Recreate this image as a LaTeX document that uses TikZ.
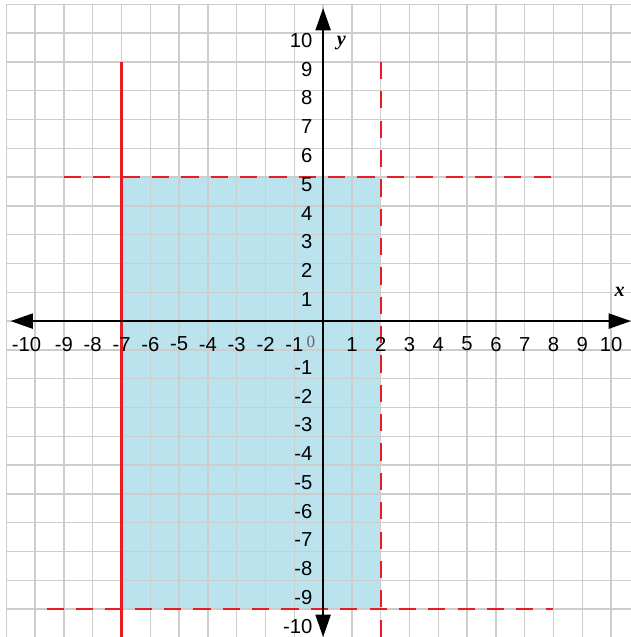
\documentclass[tikz,border=0pt]{standalone}
\usepackage{fontspec}
\setmainfont{Liberation Sans}
\newfontfamily\serifnum{Liberation Serif}
\usetikzlibrary{arrows.meta}
\definecolor{regionblue}{RGB}{187,227,238}
\definecolor{gridgray}{RGB}{205,205,205}
\definecolor{boundred}{RGB}{232,28,36}
\tikzset{
	bound/.style={draw=boundred,line width=2.2pt},
	boundopen/.style={draw=boundred,line width=1.6pt,dash pattern=on 17pt off 12pt}
}
\begin{document}
\begin{tikzpicture}[line join=round,>={Triangle[length=22pt,width=15pt]},font=\fontsize{20}{24}\selectfont,declare function={
		xmin=-11; xmax=10.69;
		ymin=-10.97; ymax=11;
	}]
	\useasboundingbox (-11.22,ymin) rectangle (xmax,11.15);
	\fill[regionblue] (-7,-10) rectangle (2,5);
	\draw[gridgray,line width=1.3pt] (xmin,-11) grid (xmax,ymax);
	% boundary lines
	\draw[bound] (-7,9)--(-7,ymin);
	\draw[boundopen] (2,9)--(2,ymin)
	(-9,5)--(8,5)
	(-9.6,-10)--(8,-10);
	\draw[<->,line width=1.6pt] (-10.85,0)--(xmax,0);
	\draw[<->,line width=1.6pt] (0,ymin)--(0,10.87);
	\node (xa) at (10.3,1) {\serifnum\itshape\bfseries x};
	\node (ya) at (0.63,9.65) {\serifnum\itshape\bfseries y};
	\node[text=black!60,font=\serifnum\fontsize{17}{20}\selectfont] (o) at (-0.42,-0.72) {0};
	\node (xl-10) at (-10.3,-0.8) {-10};
	\foreach \x in {-9,...,-1,1,2,...,10}{
		\node (xl\x) at (\x,-0.8) {\x};}
	\foreach \y in {1,...,10}{
		\node[anchor=east] (yl\y) at (-0.25,\y-0.25) {\y};}
	\foreach \y in {-1,...,-10}{
		\node[anchor=east] (yl\y) at (-0.25,\y-0.6) {\y};}
\end{tikzpicture}
\end{document}
